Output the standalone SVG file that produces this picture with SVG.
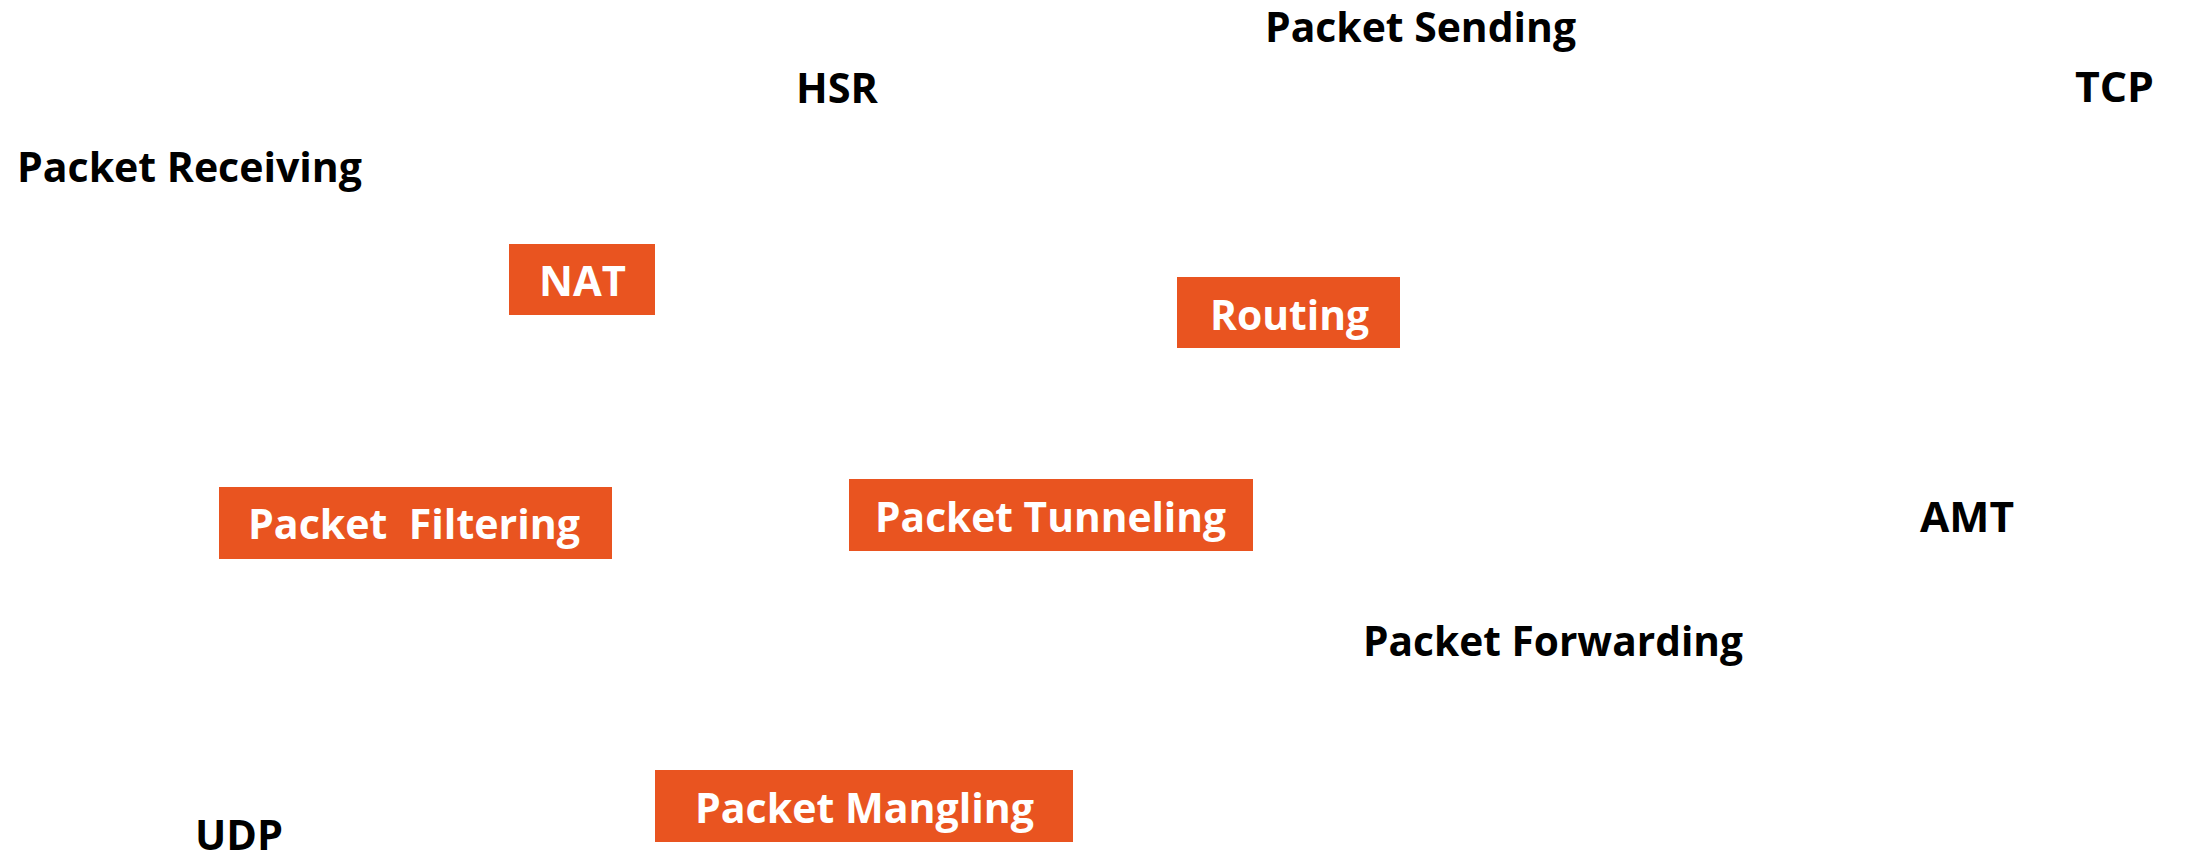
<svg xmlns="http://www.w3.org/2000/svg" width="2185" height="862" viewBox="0 0 2185 862">
<style>
.lbl{font-family:"Open Sans","Liberation Sans",sans-serif;font-weight:700;font-size:41px;fill:#000;white-space:pre}
.box{fill:#E95420}
.bt{font-family:"Open Sans","Liberation Sans",sans-serif;font-weight:700;font-size:41px;fill:#fff;white-space:pre}
</style>
<rect width="2185" height="862" fill="#fff"/>
<g id="connectors"></g>
<g id="packet-sending"><text class="lbl" x="1265" y="42" textLength="311" lengthAdjust="spacingAndGlyphs">Packet Sending</text></g>
<g id="hsr"><text class="lbl" x="796" y="103" textLength="82" lengthAdjust="spacingAndGlyphs">HSR</text></g>
<g id="tcp"><text class="lbl" x="2075" y="102" textLength="79" lengthAdjust="spacingAndGlyphs">TCP</text></g>
<g id="packet-receiving"><text class="lbl" x="17" y="182" textLength="345" lengthAdjust="spacingAndGlyphs">Packet Receiving</text></g>
<g id="amt"><text class="lbl" x="1920" y="532" textLength="94" lengthAdjust="spacingAndGlyphs">AMT</text></g>
<g id="packet-forwarding"><text class="lbl" x="1363" y="656" textLength="380" lengthAdjust="spacingAndGlyphs">Packet Forwarding</text></g>
<g id="udp"><text class="lbl" x="195" y="850" textLength="88" lengthAdjust="spacingAndGlyphs">UDP</text></g>
<g id="nat"><rect class="box" x="509" y="244" width="146" height="71"/><text class="bt" x="539" y="296" textLength="87" lengthAdjust="spacingAndGlyphs">NAT</text></g>
<g id="routing"><rect class="box" x="1177" y="277" width="223" height="71"/><text class="bt" x="1210" y="330" textLength="159" lengthAdjust="spacingAndGlyphs">Routing</text></g>
<g id="packet-filtering"><rect class="box" x="219" y="487" width="393" height="72"/><text class="bt" x="248" y="539" textLength="332" lengthAdjust="spacingAndGlyphs">Packet  Filtering</text></g>
<g id="packet-tunneling"><rect class="box" x="849" y="479" width="404" height="72"/><text class="bt" x="875" y="532" textLength="351" lengthAdjust="spacingAndGlyphs">Packet Tunneling</text></g>
<g id="packet-mangling"><rect class="box" x="655" y="770" width="418" height="72"/><text class="bt" x="695" y="823" textLength="339" lengthAdjust="spacingAndGlyphs">Packet Mangling</text></g>
</svg>
